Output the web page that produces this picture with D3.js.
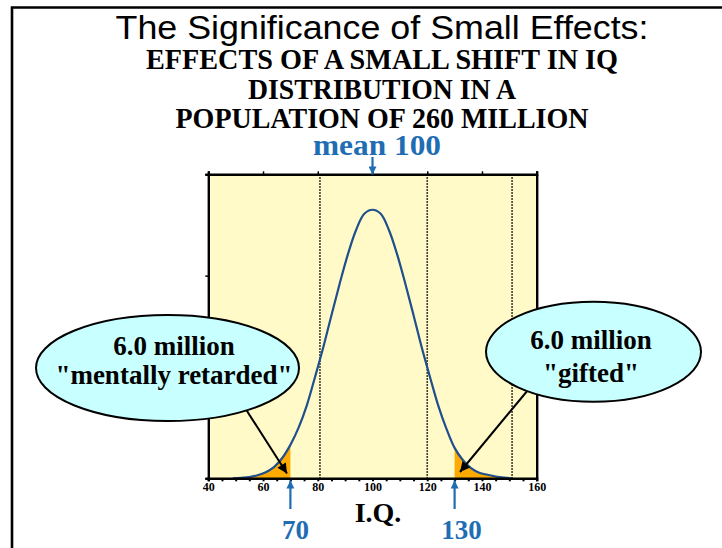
<!DOCTYPE html>
<html>
<head>
<meta charset="utf-8">
<script src="https://cdn.jsdelivr.net/npm/d3@7"></script>
<style>
  html, body { margin: 0; padding: 0; background: #ffffff; }
  svg { display: block; }
</style>
</head>
<body>
<svg id="chart" width="722" height="548"></svg>
<script>
// ---------------- data ----------------
const titleText = "The Significance of Small Effects:";
const subtitleLines = ["EFFECTS OF A SMALL SHIFT IN IQ", "DISTRIBUTION IN A", "POPULATION OF 260 MILLION"];
const meanLabel = "mean 100";
const meanIQ = 100;
const cutoffs = [70, 130];
const cutoffLabels = ["70", "130"];
const axisLabel = "I.Q.";
const xTickLabels = [40, 60, 80, 100, 120, 140, 160];
const yTicks = [0, 0.01, 0.02, 0.03];
const gridIQ = [80.8, 120, 151];
// IQ score points and density
const iqPoints = [49, 52, 55, 58, 61, 64, 67, 70, 73, 76, 79, 82, 85, 88, 91, 94, 97, 100,
                  103, 106, 109, 112, 115, 118, 121, 124, 127, 130, 133, 136, 139, 142, 145, 148, 151];
const density = [0.0, 0.00005, 0.00012, 0.0003, 0.0006, 0.0011, 0.0020, 0.0033, 0.0050, 0.0072,
                 0.0100, 0.0129, 0.0161, 0.0192, 0.0221, 0.0245, 0.0261, 0.0265,
                 0.0261, 0.0245, 0.0221, 0.0192, 0.0161, 0.0129, 0.0100, 0.0072, 0.0049,
                 0.0030, 0.0018, 0.0010, 0.00055, 0.00035, 0.00018, 0.00007, 0.0];
const calloutLines = [["6.0 million", "\"mentally retarded\""], ["6.0 million", "\"gifted\""]];

// ---------------- drawing ----------------
(function () {
const svg = d3.select("#chart");
const blue = "#1f6db3";
const curveBlue = "#1f4f8c";
const serif = "'Liberation Serif', 'Times New Roman', serif";

const x = d3.scaleLinear().domain([40, 160]).range([208.3, 536.7]);
const y = d3.scaleLinear().domain([0, 0.03]).range([478.3, 174.3]);

// arrow markers
const defs = svg.append("defs");
function marker(id, color, w, h) {
  defs.append("marker").attr("id", id)
    .attr("viewBox", "0 0 10 10").attr("refX", 10).attr("refY", 5)
    .attr("markerUnits", "userSpaceOnUse")
    .attr("markerWidth", w).attr("markerHeight", h)
    .attr("orient", "auto")
    .append("path").attr("d", "M0,0 L10,5 L0,10 Z").attr("fill", color);
}
marker("headBlack", "#000", 13, 10);
marker("headBlue", blue, 10, 8);

// outer frame
svg.append("path").attr("d", "M12,548 L12,7.5 L722,7.5")
  .attr("fill", "none").attr("stroke", "#000").attr("stroke-width", 2.6);

// titles
svg.append("text").attr("x", 382).attr("y", 38.5)
  .attr("text-anchor", "middle")
  .attr("font-family", "'Liberation Sans', Arial, sans-serif")
  .attr("font-size", 34)
  .attr("textLength", 533).attr("lengthAdjust", "spacingAndGlyphs")
  .text(titleText);

const subWidths = [472, 268, 413];
const subBase = [68.5, 99, 128];
subtitleLines.forEach((t, i) => {
  svg.append("text").attr("x", 382).attr("y", subBase[i])
    .attr("text-anchor", "middle")
    .attr("font-family", serif).attr("font-weight", "bold")
    .attr("font-size", 29)
    .attr("textLength", subWidths[i]).attr("lengthAdjust", "spacingAndGlyphs")
    .text(t);
});

svg.append("text").attr("x", 377).attr("y", 155)
  .attr("text-anchor", "middle")
  .attr("font-family", serif).attr("font-weight", "bold")
  .attr("font-size", 29).attr("fill", blue)
  .attr("textLength", 128).attr("lengthAdjust", "spacingAndGlyphs")
  .text(meanLabel);

// plot background
svg.append("rect").attr("x", x(40)).attr("y", y(0.03))
  .attr("width", x(160) - x(40)).attr("height", y(0) - y(0.03))
  .attr("fill", "#fffac8");

// dotted grid lines
svg.selectAll("line.grid").data(gridIQ).join("line").attr("class", "grid")
  .attr("x1", d => x(d)).attr("x2", d => x(d))
  .attr("y1", y(0.03)).attr("y2", y(0))
  .attr("stroke", "#000").attr("stroke-width", 1.6)
  .attr("stroke-dasharray", "1.5,1.5");

// orange tails
const pts = iqPoints.map((v, i) => ({ iq: v, d: density[i] }));
const area = d3.area().x(p => x(p.iq)).y0(y(0)).y1(p => y(p.d));
svg.append("path").datum(pts.filter(p => p.iq <= cutoffs[0]))
  .attr("d", area).attr("fill", "#ffaa00");
svg.append("path").datum(pts.filter(p => p.iq >= cutoffs[1]))
  .attr("d", area).attr("fill", "#ffaa00");

// curve
const line = d3.line().x(p => x(p.iq)).y(p => y(p.d)).curve(d3.curveCatmullRom);
svg.append("path").datum(pts).attr("d", line)
  .attr("fill", "none").attr("stroke", curveBlue).attr("stroke-width", 2.2);

// axes
const axB = d3.axisBottom(x).tickValues(d3.range(40, 161, 5)).tickSize(3)
  .tickFormat(d => xTickLabels.includes(d) ? d : "");
const gB = svg.append("g").attr("transform", `translate(0,${y(0)})`).call(axB);
gB.select(".domain").attr("stroke-width", 2.4);
gB.selectAll(".tick line").attr("stroke-width", 2);
gB.selectAll(".tick text").attr("font-family", serif).attr("font-weight", "bold")
  .attr("font-size", 12).attr("dy", "0.6em").attr("fill", "#000");

const axT = d3.axisTop(x).tickValues(xTickLabels).tickSize(3).tickFormat("");
const gT = svg.append("g").attr("transform", `translate(0,${y(0.03)})`).call(axT);
gT.select(".domain").attr("stroke-width", 2.4);
gT.selectAll(".tick line").attr("stroke-width", 1.5);

const axL = d3.axisLeft(y).tickValues(yTicks).tickSize(3).tickFormat("");
const gL = svg.append("g").attr("transform", `translate(${x(40)},0)`).call(axL);
gL.select(".domain").attr("stroke-width", 2.4);
gL.selectAll(".tick line").attr("stroke-width", 1.5);

const axR = d3.axisRight(y).tickValues([]).tickSize(0);
const gR = svg.append("g").attr("transform", `translate(${x(160)},0)`).call(axR);
gR.select(".domain").attr("stroke-width", 2.4);

// axis title
svg.append("text").attr("x", 378).attr("y", 521.5)
  .attr("text-anchor", "middle")
  .attr("font-family", serif).attr("font-weight", "bold").attr("font-size", 28)
  .text(axisLabel);

// blue arrows & labels for cutoffs
cutoffs.forEach((c, i) => {
  svg.append("line").attr("x1", x(c)).attr("x2", x(c))
    .attr("y1", 509).attr("y2", 480.5)
    .attr("stroke", blue).attr("stroke-width", 2.2)
    .attr("marker-end", "url(#headBlue)");
  svg.append("text").attr("x", x(c) + (i === 0 ? 5 : 7)).attr("y", 538.5)
    .attr("text-anchor", "middle")
    .attr("font-family", serif).attr("font-weight", "bold").attr("font-size", 27)
    .attr("fill", blue)
    .text(cutoffLabels[i]);
});

// mean arrow
svg.append("line").attr("x1", x(meanIQ)).attr("x2", x(meanIQ))
  .attr("y1", 157).attr("y2", 174.5)
  .attr("stroke", blue).attr("stroke-width", 2.2)
  .attr("marker-end", "url(#headBlue)");

// black callout arrows (drawn beneath ellipses)
svg.append("line").attr("x1", 222).attr("y1", 372).attr("x2", 287).attr("y2", 473.5)
  .attr("stroke", "#000").attr("stroke-width", 2)
  .attr("marker-end", "url(#headBlack)");
svg.append("line").attr("x1", 552).attr("y1", 361).attr("x2", 460).attr("y2", 472)
  .attr("stroke", "#000").attr("stroke-width", 2)
  .attr("marker-end", "url(#headBlack)");

// ellipses
const ellipses = [
  { cx: 167.5, cy: 368, rx: 131.5, ry: 53, tx: 174, b: [354.5, 383.5] },
  { cx: 593.5, cy: 351.7, rx: 107.5, ry: 50, tx: 591, b: [348.5, 382] }
];
ellipses.forEach((e, i) => {
  svg.append("ellipse").attr("cx", e.cx).attr("cy", e.cy).attr("rx", e.rx).attr("ry", e.ry)
    .attr("fill", "#c8ffff").attr("stroke", "#000").attr("stroke-width", 2);
  calloutLines[i].forEach((t, j) => {
    svg.append("text").attr("x", e.tx).attr("y", e.b[j])
      .attr("text-anchor", "middle")
      .attr("font-family", serif).attr("font-weight", "bold").attr("font-size", 27)
      .text(t);
  });
});
})();
</script>
</body>
</html>
